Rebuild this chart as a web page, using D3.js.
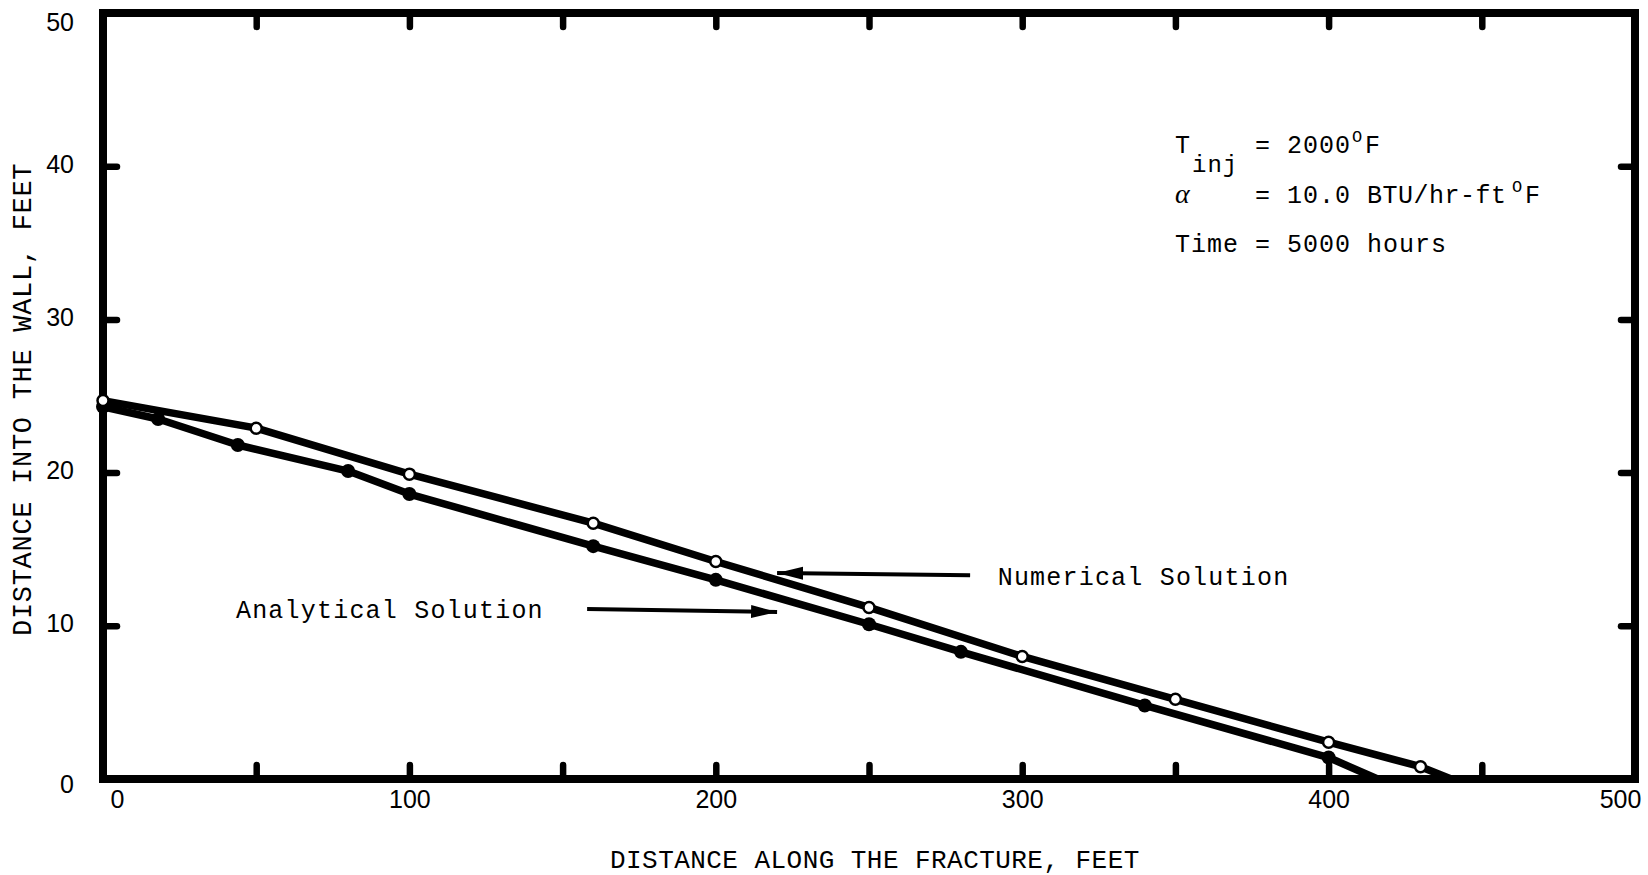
<!DOCTYPE html>
<html>

<head>
    <title>Distance into the wall</title>
    <meta charset="utf-8">
    <script src="https://d3js.org/d3.v7.min.js"></script>
    <style>
        body { margin: 0; background: #fff; }
        text { fill: #000; }
        .num { font-family: "Liberation Sans", Arial, sans-serif; font-size: 25px; }
        .typed { font-family: "Liberation Mono", "DejaVu Sans Mono", monospace; }
    </style>
</head>

<body>
    <svg id="chart" width="1648" height="875"></svg>
</body>

<script>

    // values (feet)
    let numericalX = [0, 50, 100, 160, 200, 250, 300, 350, 400, 430];
    let numericalY = [24.7, 22.9, 19.9, 16.7, 14.2, 11.2, 8.0, 5.2, 2.4, 0.8];
    let numericalEnd = [440, 0];     // where the curve reaches the axis (no marker)

    let analyticalX = [0, 18, 44, 80, 100, 160, 200, 250, 280, 340, 400];
    let analyticalY = [24.3, 23.5, 21.8, 20.1, 18.6, 15.2, 13.0, 10.1, 8.3, 4.8, 1.4];
    let analyticalEnd = [416, 0];

    let xTicks = [0, 50, 100, 150, 200, 250, 300, 350, 400, 450, 500];
    let xLabels = [0, 100, 200, 300, 400, 500];
    let yTicks = [0, 10, 20, 30, 40, 50];

    let xTitle = "DISTANCE ALONG THE FRACTURE, FEET";
    let yTitle = "DISTANCE INTO THE WALL, FEET";

    let svg = d3.select("#chart");

    let x = d3.scaleLinear().domain([0, 500]).range([103, 1635]);
    let y = d3.scaleLinear().domain([0, 50]).range([779, 13]);

    // arrow head
    svg.append("defs").append("marker")
        .attr("id", "head")
        .attr("markerUnits", "userSpaceOnUse")
        .attr("markerWidth", 28).attr("markerHeight", 16)
        .attr("refX", 26).attr("refY", 8)
        .attr("orient", "auto")
        .append("path")
        .attr("d", "M0,1.5 L26,8 L0,14.5 Z")
        .attr("fill", "#000");

    // ticks on all four sides, pointing inward
    function styleAxis(g) {
        g.select(".domain").remove();
        g.selectAll(".tick line")
            .attr("stroke", "#000")
            .attr("stroke-width", 6.5)
            .attr("stroke-linecap", "round");
    }

    svg.append("g")
        .attr("transform", `translate(0,${y(0)})`)
        .call(d3.axisBottom(x).tickValues(xTicks).tickSize(-14).tickSizeOuter(0)
            .tickFormat(d => xLabels.includes(d) ? d : ""))
        .call(styleAxis)
        .call(g => g.selectAll(".tick text")
            .attr("class", "num")
            .attr("y", 29).attr("dy", null)
            .attr("dx", d => d === 0 ? 14 : d === 500 ? -15 : 0));

    svg.append("g")
        .attr("transform", `translate(0,${y(50)})`)
        .call(d3.axisTop(x).tickValues(xTicks.slice(1, -1)).tickSize(-14).tickSizeOuter(0).tickFormat(""))
        .call(styleAxis);

    svg.append("g")
        .attr("transform", `translate(${x(0)},0)`)
        .call(d3.axisLeft(y).tickValues(yTicks).tickSize(-14).tickSizeOuter(0))
        .call(styleAxis)
        .call(g => g.selectAll(".tick text")
            .attr("class", "num")
            .attr("x", -29).attr("dy", null)
            .attr("y", d => d === 0 ? 13 : d === 50 ? 17 : 6));

    svg.append("g")
        .attr("transform", `translate(${x(500)},0)`)
        .call(d3.axisRight(y).tickValues(yTicks.slice(1, -1)).tickSize(-14).tickSizeOuter(0).tickFormat(""))
        .call(styleAxis);

    // heavy frame
    svg.append("rect")
        .attr("x", x(0)).attr("y", y(50))
        .attr("width", x(500) - x(0)).attr("height", y(0) - y(50))
        .attr("fill", "none")
        .attr("stroke", "#000")
        .attr("stroke-width", 8);

    // curves
    let line = d3.line().x(d => x(d[0])).y(d => y(d[1]));

    let analytical = analyticalX.map((v, i) => [v, analyticalY[i]]);
    let numerical = numericalX.map((v, i) => [v, numericalY[i]]);

    svg.append("path")
        .datum(analytical.concat([analyticalEnd]))
        .attr("d", line)
        .attr("fill", "none")
        .attr("stroke", "#000")
        .attr("stroke-width", 7.5)
        .attr("stroke-linejoin", "round");

    svg.append("path")
        .datum(numerical.concat([numericalEnd]))
        .attr("d", line)
        .attr("fill", "none")
        .attr("stroke", "#000")
        .attr("stroke-width", 7.5)
        .attr("stroke-linejoin", "round");

    svg.append("g")
        .selectAll("circle")
        .data(analytical)
        .join("circle")
        .attr("cx", d => x(d[0]))
        .attr("cy", d => y(d[1]))
        .attr("r", 7)
        .attr("fill", "#000");

    svg.append("g")
        .selectAll("circle")
        .data(numerical)
        .join("circle")
        .attr("cx", d => x(d[0]))
        .attr("cy", d => y(d[1]))
        .attr("r", 5.5)
        .attr("fill", "#fff")
        .attr("stroke", "#000")
        .attr("stroke-width", 2.5);

    // labels with arrows
    svg.append("line")
        .attr("x1", x(283)).attr("y1", y(13.3))
        .attr("x2", x(220)).attr("y2", y(13.45))
        .attr("stroke", "#000").attr("stroke-width", 4)
        .attr("marker-end", "url(#head)");

    svg.append("line")
        .attr("x1", x(158)).attr("y1", y(11.1))
        .attr("x2", x(220)).attr("y2", y(10.9))
        .attr("stroke", "#000").attr("stroke-width", 4)
        .attr("marker-end", "url(#head)");

    svg.append("text")
        .attr("class", "typed")
        .attr("x", x(292)).attr("y", y(12.66))
        .style("font-size", "25px").style("letter-spacing", "1.2px")
        .text("Numerical Solution");

    svg.append("text")
        .attr("class", "typed")
        .attr("x", x(43.4)).attr("y", y(10.5))
        .style("font-size", "25px").style("letter-spacing", "1.2px")
        .text("Analytical Solution");

    // conditions block
    let notes = svg.append("g").attr("class", "typed")
        .style("font-size", "25px").style("letter-spacing", "1px");

    let row1 = notes.append("text").attr("y", 153);
    row1.append("tspan").attr("x", 1175).text("T");
    row1.append("tspan").attr("x", 1192).attr("dy", 19).style("font-size", "24px").text("inj");
    row1.append("tspan").attr("x", 1255).attr("dy", -19).text("= 2000");
    row1.append("tspan").attr("x", 1352).attr("dy", -11).style("font-size", "17px").text("O");
    row1.append("tspan").attr("x", 1365).attr("dy", 11).text("F");

    let row2 = notes.append("text").attr("y", 203);
    row2.append("tspan").attr("x", 1175)
        .style("font-family", "'Liberation Serif', serif").style("font-style", "italic").style("font-size", "28px")
        .text("α");
    row2.append("tspan").attr("x", 1255).text("= 10.0");
    row2.append("tspan").attr("x", 1367).style("letter-spacing", "0.5px").text("BTU/hr-ft");
    row2.append("tspan").attr("x", 1512).attr("dy", -11).style("font-size", "17px").text("O");
    row2.append("tspan").attr("x", 1525).attr("dy", 11).text("F");

    notes.append("text").attr("x", 1175).attr("y", 252).text("Time = 5000 hours");

    // axis titles
    svg.append("text")
        .attr("class", "typed")
        .attr("x", 610).attr("y", 868)
        .style("font-size", "26px").style("letter-spacing", "0.45px")
        .text(xTitle);

    svg.append("text")
        .attr("class", "typed")
        .attr("transform", "translate(31,636) rotate(-90)")
        .style("font-size", "27px").style("letter-spacing", "0.7px")
        .text(yTitle);

</script>

</html>
